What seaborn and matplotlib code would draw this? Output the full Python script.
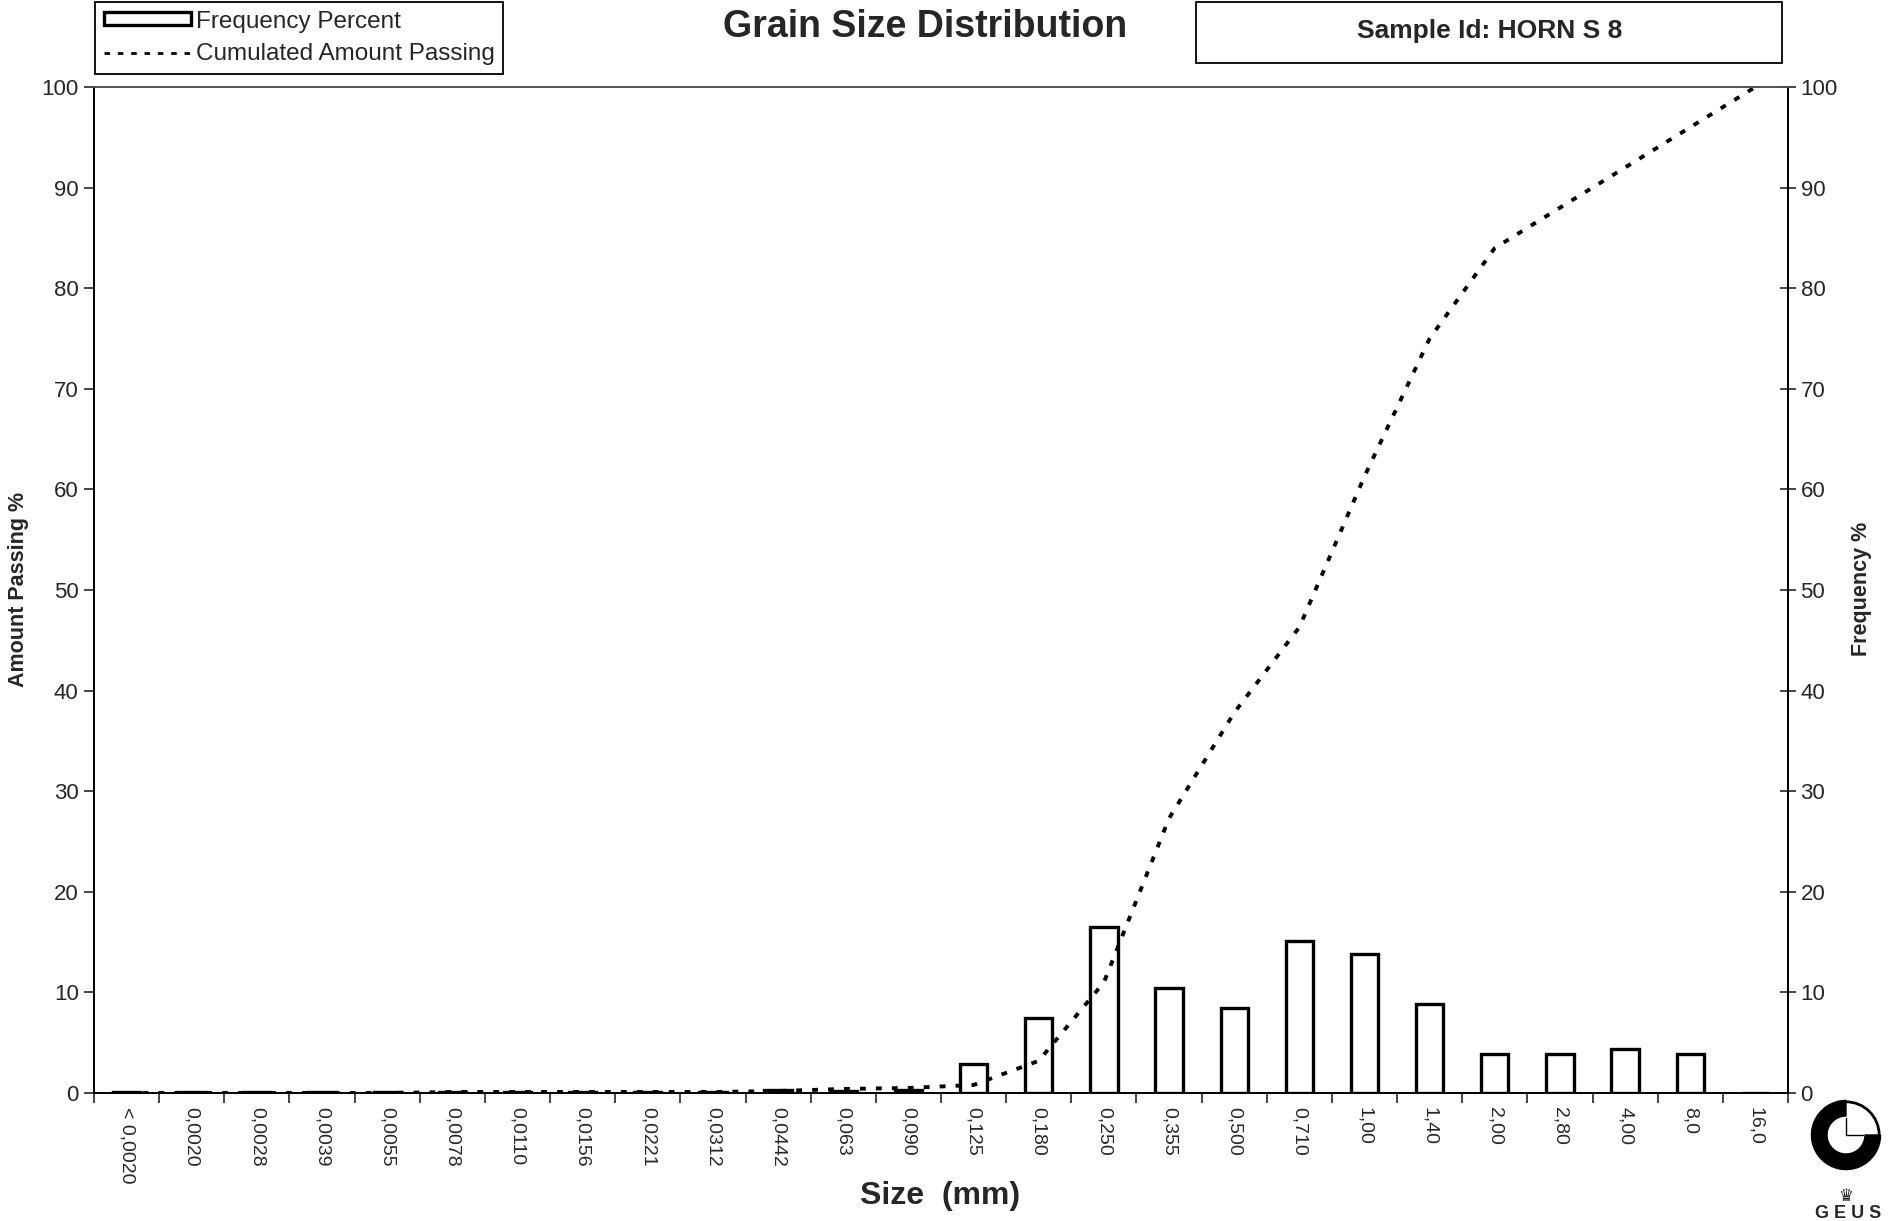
import numpy as np
import pandas as pd
import matplotlib
matplotlib.use("Agg")
import matplotlib.pyplot as plt
import seaborn as sns
from matplotlib.patches import Rectangle, Wedge, Patch
from matplotlib.lines import Line2D

# ---------------- data ----------------
size_labels = ["< 0,0020", "0,0020", "0,0028", "0,0039", "0,0055", "0,0078",
               "0,0110", "0,0156", "0,0221", "0,0312", "0,0442", "0,063",
               "0,090", "0,125", "0,180", "0,250", "0,355", "0,500", "0,710",
               "1,00", "1,40", "2,00", "2,80", "4,00", "8,0", "16,0"]
frequency_pct = [0.05, 0.05, 0.05, 0.05, 0.05, 0.05, 0.05, 0.05, 0.05, 0.05,
                 0.3, 0.15, 0.25, 2.9, 7.5, 16.5, 10.4, 8.4, 15.1, 13.8,
                 8.8, 3.9, 3.9, 4.4, 3.9, 0.0]
cumulative_pct = [0.0, 0.0, 0.0, 0.0, 0.0, 0.1, 0.1, 0.1, 0.1, 0.1,
                  0.2, 0.4, 0.5, 0.8, 3.2, 11.0, 27.3, 37.8, 46.3, 61.3,
                  75.0, 84.0, 88.0, 92.0, 96.0, 100.0]
y_ticks = list(range(0, 101, 10))

title_text = "Grain Size Distribution"
sample_text = "Sample Id: HORN S 8"

# ---------------- style ----------------
sns.set_style("white")
plt.rcParams['font.family'] = ['Liberation Sans', 'DejaVu Sans']

W, H = 1904, 1221
fig = plt.figure(figsize=(W / 100, H / 100), dpi=100)

left_px, right_px, top_px, bot_px = 94, 1788, 87, 1093
ax = fig.add_axes([left_px / W, 1 - bot_px / H,
                   (right_px - left_px) / W, (bot_px - top_px) / H])
ax2 = ax.twinx()
ax2.patch.set_visible(False)

df = pd.DataFrame({"pos": np.arange(len(size_labels)),
                   "size": size_labels,
                   "freq": frequency_pct,
                   "cum": cumulative_pct})

sns.barplot(data=df, x="pos", y="freq", ax=ax, native_scale=True,
            color="white", edgecolor="black", linewidth=2.4, width=0.42,
            saturation=1, errorbar=None)
sns.lineplot(data=df, x="pos", y="cum", ax=ax2, color="black",
             linewidth=2.8, linestyle=(0, (1.5, 2.6)))

for a in (ax, ax2):
    a.set_ylim(0, 100)
    a.set_xlim(-0.5, len(size_labels) - 0.5)
    a.set_xlabel("")
    a.set_ylabel("")
    for s in a.spines.values():
        s.set_color("black")
        s.set_linewidth(1.3)
    a.spines["top"].set_color("#555555")

ax.set_yticks(y_ticks)
ax.set_yticklabels([str(v) for v in y_ticks], fontsize=16)
ax.tick_params(axis="y", direction="out", length=7, width=1.2, pad=4, left=True)
ax2.set_yticks(y_ticks)
ax2.set_yticklabels([str(v) for v in y_ticks], fontsize=16)
ax2.tick_params(axis="y", direction="inout", length=12, width=1.2, pad=3, right=True)

ax.set_xticks(df["pos"])
ax.set_xticklabels(size_labels, rotation=-90, fontsize=14, va="top", ha="center")
ax.tick_params(axis="x", length=0, pad=10, bottom=True)
ax.set_xticks(np.arange(-0.5, len(size_labels) + 0.5, 1.0), minor=True)
ax.tick_params(axis="x", which="minor", direction="out", length=7, width=1.2, bottom=True)
ax2.tick_params(axis="x", length=0)

ax.grid(False)
ax2.grid(False)

# axis labels
fig.text(19 / W, 1 - 589 / H, "Amount Passing %", rotation=90, fontsize=15.5,
         fontweight="bold", ha="center", va="center")
fig.text(1861 / W, 1 - 589 / H, "Frequency %", rotation=90, fontsize=15.5,
         fontweight="bold", ha="center", va="center")
fig.text(940 / W, 1 - 1196 / H, "Size  (mm)", fontsize=23, fontweight="bold",
         ha="center", va="center")

# title
fig.text(925 / W, 1 - 27 / H, title_text, fontsize=27, fontweight="bold",
         ha="center", va="center")

# sample id box
fig.patches.append(Rectangle((1196 / W, 1 - 63 / H), (1782 - 1196) / W, 61 / H,
                             transform=fig.transFigure, fill=False,
                             edgecolor="black", linewidth=1.3))
fig.text(1490 / W, 1 - 31 / H, sample_text, fontsize=19, fontweight="bold",
         ha="center", va="center")

# legend
handles = [Patch(facecolor="white", edgecolor="black", linewidth=2.4),
           Line2D([0], [0], color="black", linewidth=2.0, linestyle=(0, (2.0, 2.8)))]
leg = fig.legend(handles, ["Frequency Percent", "Cumulated Amount Passing"],
                 loc="upper left", bbox_to_anchor=(95 / W, 1 - 2 / H),
                 bbox_transform=fig.transFigure, fontsize=17.5, frameon=True,
                 fancybox=False, edgecolor="black", framealpha=1,
                 handlelength=3.6, handleheight=0.45, handletextpad=0.2,
                 borderpad=0.35, labelspacing=0.45, borderaxespad=0)
leg.get_frame().set_linewidth(1.3)

# GEUS logo
lax = fig.add_axes([(1846 - 38) / W, 1 - (1135 + 38) / H, 76 / W, 76 / H])
lax.set_xlim(-1.1, 1.1)
lax.set_ylim(-1.1, 1.1)
lax.set_aspect("equal")
lax.axis("off")
lax.add_patch(Wedge((0, 0), 1.0, 90, 360, width=0.45, facecolor="black", edgecolor="black"))
lax.add_patch(Wedge((0, 0), 1.0, 0, 90, width=0.08, facecolor="black", edgecolor="none"))
lax.plot([0, 0, 0.5], [0.5, 0, 0], color="black", linewidth=1.0)
fig.text(1846 / W, 1 - 1196 / H, "\u265B", fontsize=12, ha="center", va="center",
         family=["DejaVu Sans"])
fig.text(1848 / W, 1 - 1213 / H, "G E U S", fontsize=13, fontweight="bold",
         ha="center", va="center")

fig.savefig("out.png", dpi=100)
